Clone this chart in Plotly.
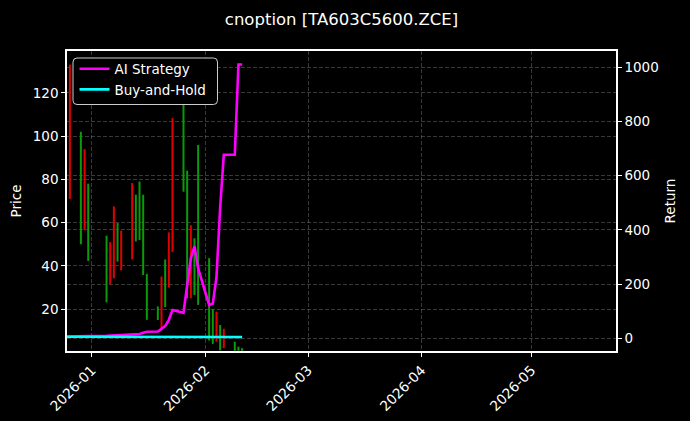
import plotly.graph_objects as go

# ---- data ----
candle_dates = ["2025-12-26", "2025-12-29", "2025-12-30", "2025-12-31",
                "2026-01-05", "2026-01-06", "2026-01-07", "2026-01-08", "2026-01-09",
                "2026-01-12", "2026-01-13", "2026-01-14", "2026-01-15", "2026-01-16",
                "2026-01-19", "2026-01-20", "2026-01-21", "2026-01-22", "2026-01-23",
                "2026-01-26", "2026-01-27", "2026-01-28", "2026-01-29", "2026-01-30",
                "2026-02-02", "2026-02-03", "2026-02-04", "2026-02-05", "2026-02-06",
                "2026-02-09", "2026-02-10", "2026-02-11"]
# "up" = green candle, "down" = red candle
candle_dir = ["down", "up", "down", "up",
              "up", "down", "down", "up", "down",
              "down", "up", "up", "up", "up",
              "up", "down", "up", "down", "down",
              "up", "up", "down", "up", "up",
              "up", "up", "down", "up", "down",
              "up", "up", "up"]
candle_high = [133.0, 102.0, 94.0, 78.0,
               54.0, 51.0, 67.5, 59.8, 56.3,
               78.3, 72.9, 79.0, 72.9, 36.3,
               21.3, 35.1, 43.0, 55.5, 108.3,
               114.5, 84.0, 58.8, 52.8, 95.9,
               43.6, 20.0, 18.9, 12.7, 11.0,
               5.0, 2.7, 2.0]
candle_low = [71.0, 50.0, 56.5, 42.3,
              23.2, 31.5, 34.3, 42.0, 38.0,
              43.0, 51.3, 52.0, 35.8, 15.1,
              15.0, 11.0, 21.0, 30.0, 46.5,
              74.3, 25.0, 25.1, 26.6, 22.0,
              5.5, 4.0, 5.0, 1.0, 2.0,
              0.8, 0.8, 0.8]

line_dates = ["2025-12-25", "2025-12-26", "2025-12-29", "2025-12-30", "2025-12-31",
              "2026-01-05", "2026-01-06", "2026-01-07", "2026-01-08", "2026-01-09",
              "2026-01-12", "2026-01-13", "2026-01-14", "2026-01-15", "2026-01-16",
              "2026-01-19", "2026-01-20", "2026-01-21", "2026-01-22", "2026-01-23",
              "2026-01-26", "2026-01-27", "2026-01-28", "2026-01-29", "2026-01-30",
              "2026-02-02", "2026-02-03", "2026-02-04", "2026-02-05", "2026-02-06",
              "2026-02-09", "2026-02-10", "2026-02-11"]
ai_strategy = [6, 6, 7, 8, 8.5,
               9, 10, 11, 12, 13,
               14, 15, 16, 20, 24,
               25, 36, 45, 68, 104,
               94, 205, 295, 340, 258,
               123, 128, 225, 480, 677,
               677, 1010, 1010]
buy_and_hold = [5.5, 5.5, 5.4, 5.4, 5.3,
                5.3, 5.2, 5.2, 5.1, 5.1,
                5.0, 5.0, 5.0, 4.9, 4.9,
                4.8, 4.8, 4.8, 4.7, 4.7,
                4.7, 4.6, 4.6, 4.6, 4.6,
                4.5, 4.5, 4.5, 4.5, 4.5,
                4.5, 4.5, 4.5]

x_ticks = ["2026-01-01", "2026-02-01", "2026-03-01", "2026-04-01", "2026-05-01"]
x_tick_labels = ["2026-01", "2026-02", "2026-03", "2026-04", "2026-05"]
price_ticks = [20, 40, 60, 80, 100, 120]
return_ticks = [0, 200, 400, 600, 800, 1000]

# build OHLC from range + direction
opens, closes = [], []
for d, h, l in zip(candle_dir, candle_high, candle_low):
    if d == "up":
        opens.append(l); closes.append(h)
    else:
        opens.append(h); closes.append(l)

FONT = "DejaVu Sans"
GRID = "rgba(150,150,150,0.38)"
GRID_DASH = "4px,2px"

# plot-area geometry (pixels) used for the legend frame
L, R, T, B = 67, 74, 51, 70
PW, PH = 690 - L - R, 421 - T - B


def px_x(p):
    return (p - L) / PW


def px_y(p):
    return (421 - B - p) / PH


fig = go.Figure()
fig.add_trace(go.Ohlc(
    x=candle_dates, open=opens, high=candle_high, low=candle_low, close=closes,
    increasing=dict(line=dict(color="#0a9a0a", width=2)),
    decreasing=dict(line=dict(color="#e00000", width=2)),
    tickwidth=0, showlegend=False, yaxis="y", hoverinfo="skip",
))
fig.add_trace(go.Scatter(
    x=line_dates, y=ai_strategy, mode="lines", name="AI Strategy",
    line=dict(color="#ff00ff", width=2.6), yaxis="y2",
))
fig.add_trace(go.Scatter(
    x=line_dates, y=buy_and_hold, mode="lines", name="Buy-and-Hold",
    line=dict(color="#00ffff", width=2.6), yaxis="y2",
))

# legend frame with rounded corners
x0, x1 = px_x(73), px_x(217.5)
y0, y1 = px_y(104.5), px_y(58)
rx, ry = 4 / PW, 4 / PH
frame_path = (f"M {x0+rx},{y1} L {x1-rx},{y1} Q {x1},{y1} {x1},{y1-ry} "
              f"L {x1},{y0+ry} Q {x1},{y0} {x1-rx},{y0} L {x0+rx},{y0} "
              f"Q {x0},{y0} {x0},{y0+ry} L {x0},{y1-ry} Q {x0},{y1} {x0+rx},{y1} Z")

fig.update_layout(
    width=690, height=421,
    paper_bgcolor="black", plot_bgcolor="black",
    margin=dict(l=L, r=R, t=T, b=B, autoexpand=False),
    font=dict(family=FONT, size=13.5, color="white"),
    title=dict(text="cnoption [TA603C5600.ZCE]", x=0.495, xanchor="center",
               y=0.955, yanchor="middle", font=dict(size=16.5, color="white"),
               automargin=False),
    showlegend=True,
    legend=dict(x=px_x(74.5), y=px_y(53.5), xanchor="left", yanchor="top",
                bgcolor="rgba(0,0,0,0)", borderwidth=0,
                font=dict(size=13.5, color="white"), itemwidth=30),
    shapes=[dict(type="path", path=frame_path, xref="paper", yref="paper",
                 line=dict(color="#cccccc", width=1), fillcolor="black",
                 layer="above")],
    xaxis=dict(
        type="date", range=["2025-12-25 05:00", "2026-05-24 01:00"],
        tickmode="array", tickvals=x_ticks, ticktext=x_tick_labels,
        tickangle=-45, ticks="outside", ticklen=4, tickcolor="white",
        tickfont=dict(size=13.8), automargin=False,
        showline=True, linecolor="white", linewidth=1.5, mirror=True,
        showgrid=True, gridcolor=GRID, griddash=GRID_DASH, gridwidth=0.8,
        rangeslider=dict(visible=False), zeroline=False,
    ),
    yaxis=dict(
        range=[0.7, 139.3], tickvals=price_ticks, automargin=False,
        ticks="outside", ticklen=4, tickcolor="white",
        showline=True, linecolor="white", linewidth=1.5,
        showgrid=True, gridcolor=GRID, griddash=GRID_DASH, gridwidth=0.8,
        zeroline=False,
        title=dict(text="Price", standoff=8, font=dict(size=13.5)),
    ),
    yaxis2=dict(
        range=[-47, 1060], tickvals=return_ticks, overlaying="y", side="right",
        automargin=False,
        ticks="outside", ticklen=4, tickcolor="white",
        showline=True, linecolor="white", linewidth=1.5,
        showgrid=True, gridcolor=GRID, griddash=GRID_DASH, gridwidth=0.8,
        zeroline=False,
        title=dict(text="Return", standoff=8, font=dict(size=13.5)),
    ),
)

fig.write_html(
    "out.html",
    config={"displayModeBar": False},
    post_script="document.body.style.margin='0';document.body.style.padding='0';"
                "document.body.style.background='black';",
)
